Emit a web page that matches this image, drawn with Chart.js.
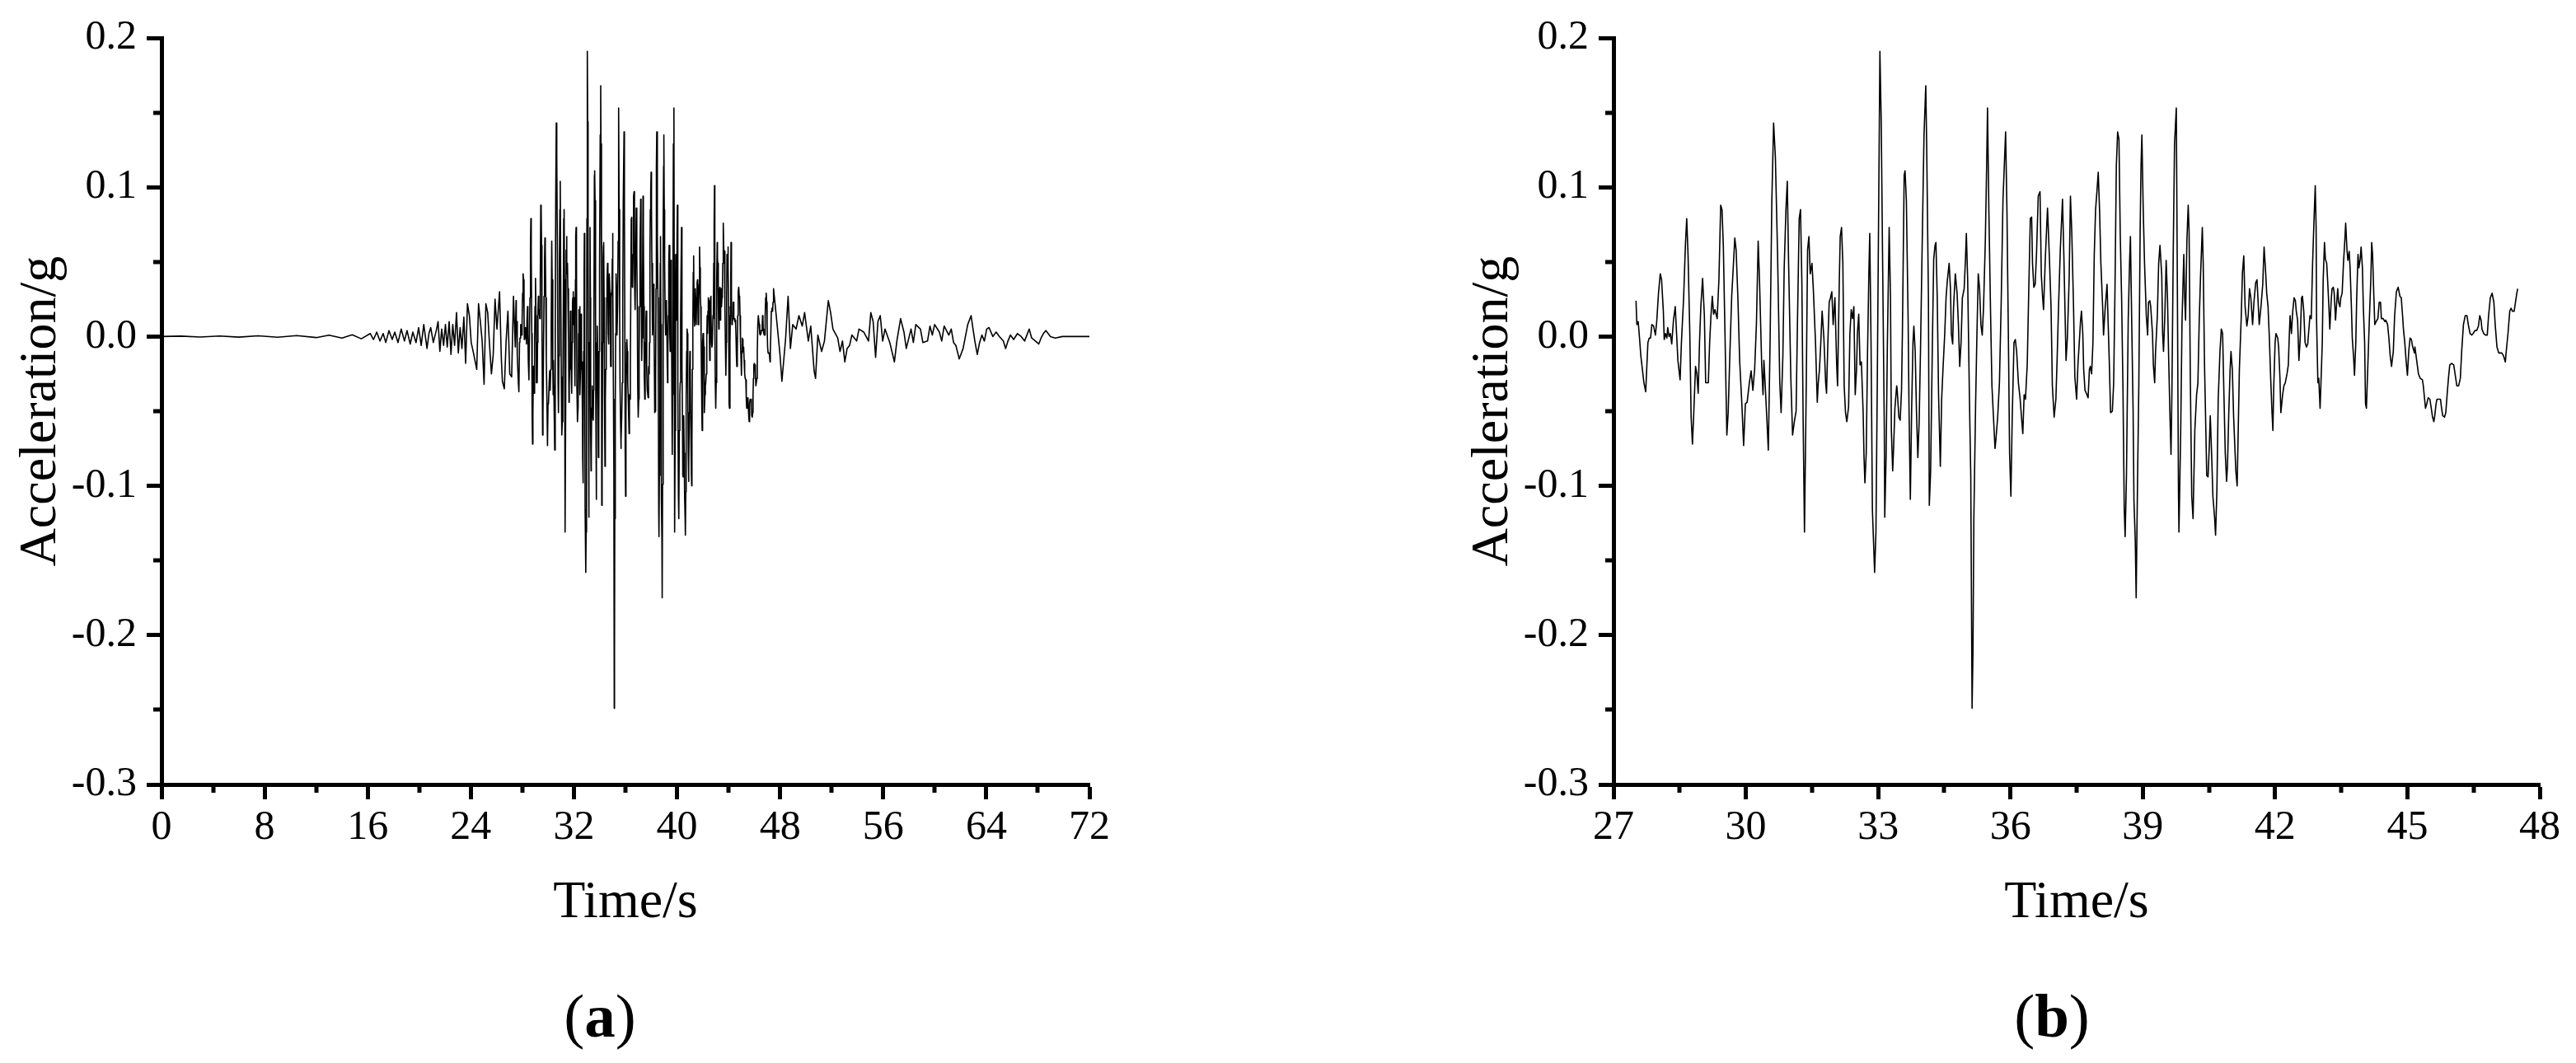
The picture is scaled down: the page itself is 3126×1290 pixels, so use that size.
<!DOCTYPE html>
<html>
<head>
<meta charset="utf-8">
<script src="https://cdn.jsdelivr.net/npm/chart.js@4.4.1/dist/chart.umd.min.js"></script>
<style>
  body { margin: 0; background: #fff; width: 3126px; height: 1290px; position: relative; overflow: hidden; }
  .box { position: absolute; top: 0; width: 1563px; height: 1290px; }
  .cap { position: absolute; font-family: "Liberation Serif", "Times New Roman", serif; font-size: 75px; color: #000;
         transform: translate(-50%, -50%); line-height: 1; }
</style>
</head>
<body>
<div class="box" style="left:0"><canvas id="chartA"></canvas></div>
<div class="box" style="left:1563px"><canvas id="chartB"></canvas></div>
<div class="cap" style="left:728px; top:1232px">(<b>a</b>)</div>
<div class="cap" style="left:2490px; top:1232px">(<b>b</b>)</div>
<script>
// record before the strong part (only in the full plot)
var timeEarly = [0, 1.5, 3, 4.5, 6, 7.5, 9, 10.5, 12, 13, 14, 14.8, 15.5, 16.2, 16.45, 16.7, 16.95, 17.2, 17.4, 17.65, 17.9,
  18.1, 18.35, 18.6, 18.85, 19.05, 19.3, 19.5, 19.75, 19.95, 20.15, 20.35, 20.6, 20.75, 20.89, 21.09, 21.32, 21.46, 21.6,
  21.74, 21.89, 22.03, 22.17, 22.32, 22.46, 22.6, 22.74, 22.89, 23.03, 23.17, 23.31, 23.46, 23.6, 23.74, 23.89, 24.03,
  24.23, 24.46, 24.6, 24.74, 24.88, 25.03, 25.17, 25.31, 25.45, 25.6, 25.74, 25.88, 26.03, 26.23, 26.37, 26.45, 26.6,
  26.74, 26.88, 27.02, 27.17, 27.31, 27.45];
var accEarly = [0, 0.0003, -0.0003, 0.0004, -0.0004, 0.0005, -0.0005, 0.0006, -0.0007, 0.0009, -0.001, 0.0012, -0.0015,
  0.002, -0.002, 0.003, -0.003, 0.002, -0.004, 0.004, -0.002, 0.003, -0.004, 0.005, -0.003, 0.004, -0.005, 0.003, -0.004,
  0.006, -0.006, 0.008, -0.008, 0.002, 0.006, -0.004, 0.004, 0.010, -0.010, 0.005, -0.006, 0.008, -0.007, 0.010, -0.012,
  0.008, -0.006, 0.016, -0.011, 0.006, -0.008, 0.013, -0.018, 0.022, 0.014, -0.004, -0.012, -0.022, 0.022, 0.010, -0.003,
  -0.032, 0.022, 0.016, -0.005, -0.025, -0.012, 0.025, 0.005, 0.030, -0.015, -0.030, -0.035, -0.003, 0.017, -0.025,
  -0.027, 0.027, -0.007];

// strong part, shown in both plots
var timeMain = [27.51, 27.53, 27.56, 27.59, 27.62, 27.69, 27.73, 27.78, 27.81, 27.84, 27.87, 27.91, 27.95, 27.98, 28.02,
  28.06, 28.09, 28.13, 28.15, 28.18, 28.21, 28.23, 28.26, 28.29, 28.32, 28.36, 28.40, 28.43, 28.46, 28.51, 28.54, 28.59,
  28.63, 28.66, 28.69, 28.73, 28.76, 28.79, 28.82, 28.86, 28.89, 28.92, 28.95, 28.98, 29.02, 29.06, 29.09, 29.15, 29.18,
  29.21, 29.24, 29.27, 29.30, 29.35, 29.39, 29.43, 29.46, 29.49, 29.52, 29.57, 29.60, 29.64, 29.68, 29.72, 29.75, 29.78,
  29.82, 29.86, 29.91, 29.95, 29.99, 30.03, 30.08, 30.12, 30.16, 30.20, 30.24, 30.28, 30.31, 30.36, 30.39, 30.41, 30.44,
  30.48, 30.51, 30.55, 30.59, 30.63, 30.67, 30.72, 30.77, 30.80, 30.84, 30.87, 30.91, 30.94, 30.97, 31.02, 31.06, 31.10,
  31.14, 31.17, 31.21, 31.24, 31.27, 31.30, 31.33, 31.37, 31.40, 31.43, 31.46, 31.50, 31.53, 31.58, 31.62, 31.64, 31.67,
  31.70, 31.73, 31.77, 31.81, 31.83, 31.86, 31.89, 31.92, 31.95, 31.98, 32.02, 32.06, 32.08, 32.12, 32.14, 32.17, 32.20,
  32.23, 32.26, 32.29, 32.33,
  32.36, 32.39, 32.42, 32.45, 32.48, 32.51, 32.53, 32.56, 32.59, 32.62, 32.66, 32.68, 32.70, 32.73, 32.76, 32.79, 32.81,
  32.84, 32.87, 32.92, 32.95, 32.98, 33.01, 33.04, 33.07, 33.10, 33.14, 33.15, 33.18, 33.21, 33.25, 33.28, 33.30, 33.33,
  33.35, 33.38, 33.42, 33.43, 33.47, 33.50, 33.53, 33.55, 33.59, 33.61, 33.64, 33.68, 33.70, 33.73, 33.76, 33.79, 33.81,
  33.84, 33.87, 33.90, 33.93, 33.96, 33.99, 34.04, 34.08, 34.10, 34.14, 34.16, 34.19, 34.23, 34.26, 34.29, 34.31, 34.34,
  34.37, 34.41, 34.44, 34.47, 34.51, 34.54, 34.57, 34.61, 34.64, 34.66, 34.69, 34.71, 34.75, 34.79, 34.82, 34.85, 34.88,
  34.91, 34.95, 34.98, 35.00, 35.03, 35.07, 35.10, 35.13, 35.15, 35.17, 35.21, 35.24, 35.27, 35.30, 35.33, 35.36, 35.39,
  35.43, 35.46, 35.48, 35.51, 35.55, 35.58, 35.62, 35.65, 35.67, 35.71, 35.75, 35.79, 35.83, 35.89, 35.92, 35.96, 35.98,
  36.01, 36.04, 36.08, 36.11, 36.14, 36.18, 36.22, 36.25, 36.28, 36.31, 36.34, 36.38, 36.42, 36.45, 36.48, 36.50, 36.53,
  36.56, 36.59, 36.63, 36.67, 36.70, 36.73, 36.75, 36.79, 36.84, 36.88, 36.92, 36.95, 36.99, 37.03, 37.06, 37.09, 37.13,
  37.18, 37.21, 37.26, 37.29, 37.33, 37.36, 37.39, 37.43, 37.46, 37.50, 37.53, 37.56,
  37.59, 37.61, 37.64, 37.66, 37.69, 37.72, 37.76, 37.79, 37.81, 37.84, 37.87, 37.90, 37.93, 37.96, 37.99, 38.02, 38.05,
  38.09, 38.11, 38.15, 38.19, 38.21, 38.24, 38.27, 38.31, 38.34, 38.37, 38.40, 38.43, 38.46, 38.49, 38.52, 38.55, 38.58,
  38.60, 38.63, 38.67, 38.70, 38.72, 38.75, 38.78, 38.80, 38.83, 38.85, 38.88, 38.91, 38.94, 38.96, 38.98, 39.01, 39.04,
  39.08, 39.11, 39.13, 39.16, 39.18, 39.22, 39.24, 39.27, 39.29, 39.33, 39.36, 39.39, 39.43, 39.45, 39.47, 39.50, 39.53,
  39.56, 39.59, 39.62, 39.64, 39.66, 39.69, 39.72, 39.76, 39.78, 39.81, 39.82, 39.86, 39.89, 39.93, 39.95, 39.97, 40.00,
  40.03, 40.05, 40.08, 40.11, 40.14, 40.18, 40.22, 40.25, 40.28, 40.31, 40.35, 40.37, 40.40, 40.43, 40.45, 40.48, 40.51,
  40.53, 40.56, 40.59, 40.63, 40.65, 40.68, 40.71, 40.75, 40.78, 40.81, 40.84, 40.87, 40.90, 40.92, 40.95, 40.98, 41.00,
  41.03, 41.06, 41.11, 41.14, 41.16, 41.19, 41.23, 41.26, 41.29, 41.32, 41.36, 41.39, 41.42, 41.45, 41.49, 41.52, 41.56,
  41.59, 41.61, 41.64, 41.68, 41.72, 41.75, 41.78, 41.81, 41.84, 41.87, 41.90, 41.93, 41.95, 41.97, 42.00, 42.02, 42.06,
  42.08, 42.11, 42.13, 42.17, 42.20, 42.23, 42.27, 42.30, 42.32, 42.34, 42.37, 42.40, 42.43, 42.46, 42.48, 42.51, 42.54,
  42.57, 42.60, 42.62, 42.65, 42.68, 42.71, 42.74, 42.79,
  42.82, 42.85, 42.88, 42.91, 42.93, 42.94, 42.97, 42.99, 43.02, 43.04, 43.07, 43.09, 43.12, 43.14, 43.17, 43.19, 43.22,
  43.24, 43.27, 43.29, 43.32, 43.34, 43.37, 43.39, 43.42, 43.44, 43.47, 43.49, 43.52, 43.55, 43.58, 43.60, 43.63, 43.65,
  43.68, 43.70, 43.73, 43.75, 43.78, 43.80, 43.83, 43.85, 43.88, 43.90, 43.93, 43.95, 43.98, 44.00, 44.03, 44.05, 44.07,
  44.10, 44.12, 44.14, 44.17, 44.19, 44.21, 44.24, 44.26, 44.29, 44.33, 44.36, 44.39, 44.41, 44.45, 44.49, 44.51, 44.55,
  44.58, 44.61, 44.64, 44.68, 44.71, 44.75, 44.79, 44.83, 44.86, 44.89, 44.91, 44.94, 44.97, 45.00, 45.03, 45.06, 45.09,
  45.12, 45.16, 45.17, 45.21, 45.25, 45.29, 45.34, 45.36, 45.39, 45.41, 45.44, 45.47, 45.51, 45.54, 45.57, 45.60, 45.62,
  45.65, 45.67, 45.71, 45.75, 45.77, 45.80, 45.84, 45.87, 45.90, 45.93, 45.96, 46.00, 46.05, 46.08, 46.12, 46.16, 46.20,
  46.23, 46.27, 46.31, 46.35, 46.38, 46.42, 46.46, 46.49, 46.53, 46.57, 46.61, 46.64, 46.67, 46.69, 46.73, 46.77, 46.81,
  46.84, 46.88, 46.92, 46.96, 46.99, 47.03, 47.07, 47.11, 47.14, 47.18, 47.22, 47.24, 47.28, 47.32, 47.35, 47.38, 47.42,
  47.45, 47.48, 47.50];
var accMain = [0.024, 0.008, 0.010, -0.001, -0.013, -0.031, -0.037, -0.004, -0.001, -0.001, 0.008, 0.007, 0.001, 0.010,
  0.029, 0.042, 0.038, 0.017, -0.002, 0.002, -0.001, 0.006, 0.000, 0.002, -0.005, 0.011, 0.020, 0.002, -0.016, -0.029,
  -0.004, 0.026, 0.061, 0.079, 0.055, 0.002, -0.054, -0.072, -0.051, -0.020, -0.025, -0.038, -0.004, 0.020, 0.039, 0.014,
  -0.031, -0.031, -0.004, 0.014, 0.027, 0.015, 0.018, 0.012, 0.038, 0.088, 0.085, 0.061, 0.014, -0.066, -0.051, -0.010,
  0.027, 0.049, 0.066, 0.058, 0.026, -0.016, -0.045, -0.073, -0.045, -0.044, -0.031, -0.023, -0.036, -0.022, 0.008, 0.064,
  0.038, -0.019, -0.039, -0.016, -0.033, -0.057, -0.076, -0.004, 0.091, 0.143, 0.120, 0.055, -0.031, -0.051, -0.013,
  0.046, 0.085, 0.104, 0.049, -0.027, -0.066, -0.057, -0.050, 0.008, 0.079, 0.085, 0.038, -0.057, -0.131, -0.033, 0.058,
  0.067, 0.042, 0.049, 0.032, -0.004, -0.044, -0.032, -0.022, -0.004, 0.017, -0.001, -0.031, -0.038, -0.004, 0.023, 0.026,
  0.030, 0.008, 0.026, -0.019, -0.033, 0.038, 0.067, 0.073, 0.049, -0.033, -0.051, -0.057, -0.047,
  0.002, 0.018, 0.012, 0.020, -0.039, -0.022, 0.002, 0.015, -0.019, -0.017, -0.051, -0.081, -0.098, -0.078, -0.010,
  0.043, 0.069, -0.007, -0.116, -0.158, -0.131, -0.033, 0.079, 0.191, 0.144, 0.055, -0.063, -0.121, -0.081, -0.004,
  0.073, 0.026, -0.063, -0.090, -0.075, -0.048, -0.033, -0.035, -0.054, -0.056, -0.036, 0.002, 0.108, 0.111, 0.091,
  0.011, -0.048, -0.109, -0.048, -0.004, 0.007, -0.010, -0.051, -0.081, -0.057, -0.010, 0.046, 0.135, 0.168, 0.129,
  0.026, -0.113, -0.090, -0.004, 0.052, 0.061, 0.063, 0.026, -0.039, -0.087, -0.042, -0.022, 0.002, 0.026, 0.038, 0.049,
  0.032, 0.002, -0.005, 0.020, 0.042, 0.029, 0.008, -0.020, -0.004, 0.026, 0.032, 0.052, 0.069, 0.038, -0.042, -0.093,
  -0.249, -0.211, -0.122, -0.045, 0.002, 0.042, 0.032, 0.008, 0.001, 0.020, 0.064, 0.114, 0.153, 0.085, 0.014, -0.033,
  -0.057, -0.075, -0.069, -0.054, -0.031, 0.023, 0.091, 0.137, 0.085, -0.019, -0.078, -0.107, -0.054, -0.004, -0.002,
  -0.010, -0.031, -0.042, -0.054, -0.065, -0.039, -0.042, -0.019, 0.038, 0.079, 0.080, 0.049, 0.033, 0.035, 0.055, 0.094,
  0.097, 0.041, 0.026, 0.018, 0.052, 0.086, 0.055, 0.020, -0.033, -0.054, -0.042, -0.013, 0.020, 0.058, 0.092, 0.055,
  -0.016, -0.001, 0.038, 0.094, 0.070, 0.020, -0.027, -0.042, -0.019, -0.004,
  0.011, 0.017, 0.002, -0.022, -0.036, -0.038, -0.041, -0.022, -0.020, -0.025, -0.004, 0.055, 0.085, 0.097, 0.110, 0.085,
  0.049, 0.020, 0.001, 0.020, 0.035, 0.014, -0.016, -0.051, -0.050, -0.031, 0.032, 0.114, 0.137, 0.132, 0.067, 0.026,
  -0.033, -0.116, -0.134, -0.093, 0.011, 0.049, 0.067, 0.008, -0.048, -0.110, -0.137, -0.175, -0.099, -0.033, 0.070,
  0.114, 0.135, 0.085, 0.049, 0.014, 0.001, 0.023, 0.024, 0.020, 0.002, -0.019, -0.031, -0.010, 0.014, 0.049, 0.061,
  0.041, 0.002, -0.010, 0.014, 0.051, 0.026, -0.019, -0.057, -0.079, -0.039, 0.055, 0.129, 0.153, 0.055, -0.107, -0.131,
  -0.063, 0.011, 0.055, 0.026, 0.011, 0.064, 0.088, 0.070, -0.033, -0.107, -0.122, -0.063, -0.039, -0.031, 0.011, 0.041,
  0.073, 0.049, -0.019, -0.063, -0.093, -0.094, -0.072, -0.053, -0.078, -0.107, -0.122, -0.133, -0.104, -0.042, -0.010,
  0.005, 0.002, -0.039, -0.078, -0.097, -0.087, -0.051, -0.022, -0.010, -0.022, -0.054, -0.090, -0.100, -0.069, -0.022,
  0.011, 0.043, 0.054, 0.020, 0.007, 0.014, 0.032, 0.026, 0.008, 0.023, 0.036, 0.038, 0.026, 0.008, 0.020, 0.035, 0.060,
  0.046, 0.029, 0.020, -0.001, -0.028, -0.051, -0.063, -0.033, -0.004, 0.002, -0.001, -0.007, -0.028, -0.051, -0.039,
  -0.033, -0.031, -0.025, -0.019, -0.001, 0.014, 0.002, 0.017, 0.026, 0.024, 0.017, 0.011, -0.016, -0.001, 0.026, 0.027,
  0.017, -0.004, -0.007, -0.005, 0.014,
  0.012, 0.049, 0.076, 0.101, 0.073, 0.011, -0.031, -0.028, -0.048, -0.031, -0.004, 0.038, 0.063, 0.052, 0.049, 0.038,
  0.020, 0.005, 0.023, 0.032, 0.033, 0.029, 0.011, 0.020, 0.032, 0.023, 0.020, 0.026, 0.029, 0.049, 0.064, 0.076, 0.058,
  0.051, 0.057, 0.046, 0.020, -0.001, -0.014, -0.026, -0.004, 0.026, 0.055, 0.046, 0.052, 0.060, 0.046, 0.020, -0.004,
  -0.045, -0.048, -0.022, -0.004, 0.014, 0.038, 0.063, 0.055, 0.026, 0.008, 0.010, 0.012, 0.023, 0.023, 0.012, 0.012,
  0.010, 0.011, 0.008, -0.001, -0.013, -0.020, -0.010, 0.014, 0.030, 0.033, 0.027, 0.026, 0.014, 0.005, -0.004, -0.016,
  -0.026, -0.010, -0.001, -0.002, -0.007, -0.011, -0.007, -0.016, -0.025, -0.028, -0.029, -0.033, -0.042, -0.048, -0.045,
  -0.041, -0.042, -0.048, -0.054, -0.057, -0.053, -0.045, -0.042, -0.042, -0.042, -0.047, -0.053, -0.054, -0.051, -0.039,
  -0.028, -0.019, -0.018, -0.019, -0.025, -0.033, -0.033, -0.028, -0.010, 0.008, 0.014, 0.014, 0.008, 0.002, 0.001, 0.002,
  0.004, 0.004, 0.007, 0.014, 0.011, 0.005, 0.002, 0.001, 0.001, 0.014, 0.026, 0.029, 0.023, 0.008, -0.007, -0.011,
  -0.011, -0.011, -0.013, -0.017, -0.010, 0.002, 0.017, 0.019, 0.017, 0.017, 0.023, 0.029, 0.032];

// decay after the strong part (only in the full plot)
var timeLate = [47.70, 47.99, 48.14, 48.43, 48.62, 48.80, 48.98, 49.24, 49.46, 49.72, 49.90, 50.19, 50.38, 50.64, 50.75,
  50.93, 51.22, 51.44, 51.74, 51.92, 52.10, 52.47, 52.65, 52.84, 53.02, 53.20, 53.39, 53.57, 53.94, 54.12, 54.49, 54.86,
  55.04, 55.22, 55.41, 55.59, 55.77, 55.96, 56.14, 56.51, 56.87, 57.06, 57.35, 57.61, 57.79, 58.16, 58.34, 58.53, 58.89,
  59.08, 59.44, 59.63, 59.81, 59.99, 60.36, 60.54, 60.73, 61.09, 61.28, 61.46, 61.64, 61.90, 62.20, 62.56, 62.82, 62.97,
  63.11, 63.30, 63.48, 63.66, 63.85, 64.03, 64.21, 64.51, 64.76, 65.02, 65.32, 65.50, 65.68, 65.87, 66.12, 66.42, 66.71,
  66.97, 67.15, 67.33, 67.52, 67.81, 68.07, 68.25, 68.43, 68.62, 68.80, 68.98, 69.35, 69.90, 70.53, 72.00];
var accLate = [0.014, -0.012, -0.030, -0.001, 0.027, -0.008, 0.008, 0.005, 0.014, 0.007, 0.016, -0.003, 0.007, -0.023,
  -0.028, 0.001, -0.010, -0.003, 0.024, 0.016, 0.005, -0.001, -0.010, -0.003, -0.017, -0.008, -0.006, 0.001, -0.003,
  0.005, 0.003, -0.003, 0.016, 0.010, -0.014, 0.010, 0.014, -0.003, 0.005, -0.004, -0.017, -0.003, 0.012, 0.003, -0.008,
  0.005, -0.004, 0.008, 0.005, -0.004, -0.003, 0.007, 0.001, 0.008, 0.003, -0.003, 0.007, 0.001, 0.005, -0.004, -0.006,
  -0.015, -0.008, 0.008, 0.014, 0.005, -0.003, -0.012, -0.004, 0.001, -0.003, 0.005, 0.006, 0.000, 0.003, 0.000, -0.003,
  -0.008, -0.003, 0.001, -0.002, 0.002, 0.000, -0.003, 0.001, 0.005, -0.001, -0.003, -0.005, -0.001, 0.002, 0.004, 0.002,
  0.000, -0.001, 0.000, 0.000, 0.000];

var yTicksMajor = 0.1, yTicksMinor = 0.05;

function toPoints(ts, vs) {
  return ts.map(function (t, i) { return { x: t, y: vs[i] }; });
}

var serif = "'Liberation Serif', 'Times New Roman', serif";
Chart.defaults.color = '#000';
Chart.defaults.font.family = serif;

// short unlabeled ticks between the labelled ones
function minorTicks(xStep) {
  return {
    id: 'minorTicks',
    afterDraw: function (chart) {
      var ctx = chart.ctx, xs = chart.scales.x, ys = chart.scales.y, a = chart.chartArea;
      ctx.save();
      ctx.strokeStyle = '#000';
      ctx.lineWidth = 5;
      ctx.beginPath();
      for (var v = xs.min + xStep; v < xs.max; v += 2 * xStep) {
        var px = Math.round(xs.getPixelForValue(v));
        ctx.moveTo(px, a.bottom);
        ctx.lineTo(px, a.bottom + 10);
      }
      for (var w = ys.min + yTicksMinor; w < ys.max; w += yTicksMajor) {
        var py = Math.round(ys.getPixelForValue(w));
        ctx.moveTo(a.left, py);
        ctx.lineTo(a.left - 10, py);
      }
      ctx.stroke();
      ctx.restore();
    }
  };
}

function makeChart(id, data, xMin, xMax, xStep, padLeft, padRight) {
  var ctx = document.getElementById(id).getContext('2d');
  return new Chart(ctx, {
    type: 'line',
    data: {
      datasets: [{
        data: data,
        borderColor: '#000',
        borderWidth: 1.6,
        borderJoinStyle: 'round',
        pointRadius: 0,
        tension: 0,
        fill: false
      }]
    },
    options: {
      responsive: true,
      maintainAspectRatio: false,
      animation: false,
      parsing: false,
      layout: { padding: { left: padLeft, right: padRight, top: 46, bottom: 155 } },
      plugins: { legend: { display: false }, tooltip: { enabled: false } },
      scales: {
        x: {
          type: 'linear', min: xMin, max: xMax,
          afterFit: function (s) { s.height = 183; },
          border: { display: true, color: '#000', width: 5 },
          grid: { drawOnChartArea: false, drawTicks: true, tickLength: 18, tickWidth: 5, tickColor: '#000' },
          ticks: { stepSize: xStep, autoSkip: false, maxRotation: 0, padding: 5, font: { size: 50 } },
          title: { display: true, text: 'Time/s', font: { size: 64 }, padding: 0 }
        },
        y: {
          type: 'linear', min: -0.3, max: 0.2,
          afterFit: function (s) { s.width = 196; },
          border: { display: true, color: '#000', width: 5 },
          grid: { drawOnChartArea: false, drawTicks: true, tickLength: 18, tickWidth: 5, tickColor: '#000' },
          ticks: {
            stepSize: yTicksMajor, padding: 12, font: { size: 50 },
            callback: function (v) { return (Math.abs(v) < 1e-9 ? 0 : v).toFixed(1); }
          },
          title: { display: true, text: 'Acceleration/g', font: { size: 64 }, padding: { top: 12, bottom: 0 } }
        }
      }
    },
    plugins: [minorTicks(xStep / 2)]
  });
}

var fullRecord = toPoints(timeEarly, accEarly).concat(toPoints(timeMain, accMain), toPoints(timeLate, accLate));
makeChart('chartA', fullRecord, 0, 72, 8, 0, 241);
makeChart('chartB', toPoints(timeMain, accMain), 27, 48, 3, 199, 44);
</script>
</body>
</html>
